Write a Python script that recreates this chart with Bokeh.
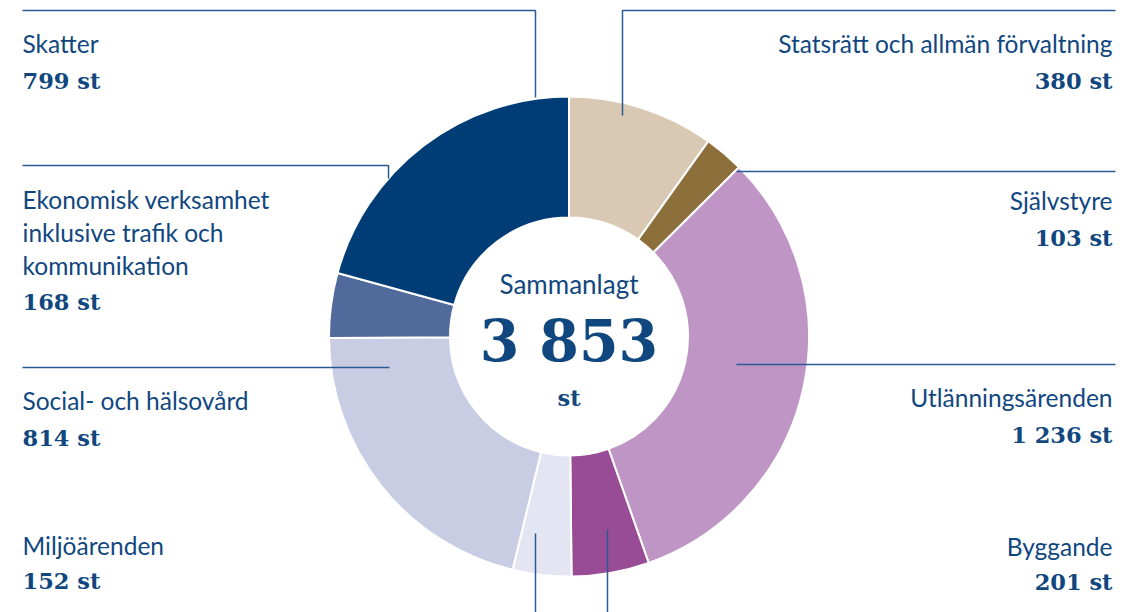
import math
from bokeh.plotting import figure
from bokeh.models import Range1d, ColumnDataSource
from bokeh.core.properties import value
from bokeh.embed import file_html
from bokeh.resources import INLINE

# ---- data (clockwise from 12 o'clock) ----
categories = ["Statsrätt och allmän förvaltning", "Självstyre", "Utlänningsärenden",
              "Byggande", "Miljöärenden", "Social- och hälsovård",
              "Ekonomisk verksamhet inklusive trafik och kommunikation", "Skatter"]
values = [380, 103, 1236, 201, 152, 814, 168, 799]
colors = ["#d9c9b4", "#8d6f3c", "#bf95c6", "#984c95", "#e3e5f2", "#c9cde3", "#506a9b", "#003d76"]

W, H = 1123, 612
TXT = "#11477f"
LINE = "#285a94"
SANS = "Lato"
SERIF = "DejaVu Serif"


def Y(py):
    return H - py


def fmt(v):
    return f"{v:,}".replace(",", " ")


p = figure(width=W, height=H, output_backend="svg", toolbar_location=None,
           x_range=Range1d(0, W), y_range=Range1d(0, H), min_border=0)
p.axis.visible = False
p.grid.visible = False
p.outline_line_color = None
p.background_fill_color = "white"

# ---- donut ----
total = sum(values)
cx, cy = 568.5, Y(336)
r_in, r_out = 119, 240
starts, ends = [], []
acc = 0
for v in values:
    a0 = math.pi / 2 - 2 * math.pi * acc / total
    acc += v
    a1 = math.pi / 2 - 2 * math.pi * acc / total
    starts.append(a0)
    ends.append(a1)
src = ColumnDataSource(dict(x=[cx] * len(values), y=[cy] * len(values),
                            start=starts, end=ends, color=colors))
p.annular_wedge(x="x", y="y", inner_radius=r_in, outer_radius=r_out,
                start_angle="start", end_angle="end", direction="clock",
                fill_color="color", line_color="white", line_width=2, source=src)

# ---- leader lines ----
leaders = [
    ([22, 535, 535], [10, 10, 97]),       # Skatter
    ([622, 622, 1115], [115, 10, 10]),    # Statsrätt
    ([736, 1115], [171, 171]),            # Självstyre
    ([736, 1115], [364, 364]),            # Utlänning
    ([607, 607], [529, 612]),             # Byggande
    ([535, 535], [533, 612]),             # Miljö
    ([22, 388, 388], [165, 165, 178]),    # Ekonomisk
    ([22, 389], [367, 367]),              # Social
]
for xs, ys in leaders:
    p.line(xs, [Y(v) for v in ys], line_color=LINE, line_width=1.5)

# ---- labels ----
label_names = {
    "Ekonomisk verksamhet inklusive trafik och kommunikation":
        ["Ekonomisk verksamhet", "inklusive trafik och", "kommunikation"],
}
left_specs = [  # category index, first line center y, value center y
    (7, 43, 80),
    (6, 199, 301),
    (5, 400, 437),
    (4, 545, 580),
]
right_specs = [
    (0, 43, 80),
    (1, 200, 237),
    (2, 397, 434),
    (3, 546, 581),
]


def draw_label(idx, y0, yv, x, align):
    name = categories[idx]
    lines = label_names.get(name, [name])
    for i, ln in enumerate(lines):
        p.text(x=[x], y=[Y(y0 + i * 33)], text=[ln], text_font=value(SANS),
               text_font_size="24.5px", text_color=TXT, text_align=align,
               text_baseline="middle")
    p.text(x=[x], y=[Y(yv)], text=[fmt(values[idx]) + " st"], text_font=value(SERIF),
           text_font_style="bold", text_font_size="22.5px", text_color=TXT,
           text_align=align, text_baseline="middle")


for idx, y0, yv in left_specs:
    draw_label(idx, y0, yv, 22, "left")
for idx, y0, yv in right_specs:
    draw_label(idx, y0, yv, 1112, "right")

# ---- center ----
p.text(x=[cx], y=[Y(283)], text=["Sammanlagt"], text_font=value(SANS),
       text_font_size="26px", text_color=TXT, text_align="center", text_baseline="middle")
p.text(x=[cx], y=[Y(340)], text=[fmt(total)], text_font=value(SERIF),
       text_font_style="bold", text_font_size="57px", text_color=TXT,
       text_align="center", text_baseline="middle")
p.text(x=[cx], y=[Y(397)], text=["st"], text_font=value(SERIF),
       text_font_style="bold", text_font_size="22.5px", text_color=TXT,
       text_align="center", text_baseline="middle")

open("out.html", "w").write(file_html(p, INLINE))
